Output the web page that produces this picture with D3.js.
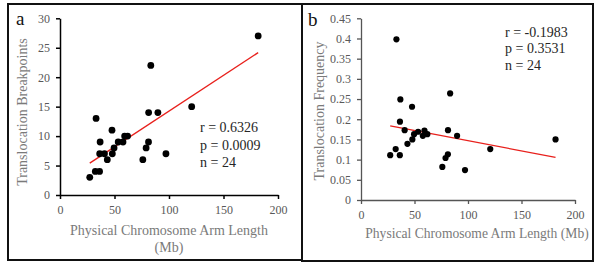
<!DOCTYPE html>
<html>
<head>
<meta charset="utf-8">
<script src="https://cdn.jsdelivr.net/npm/d3@7"></script>
<style>
  body { margin: 0; background: #fff; }
  svg text { font-family: "Liberation Serif", "Times New Roman", serif; }
</style>
</head>
<body>
<div id="chart"></div>
<script>
// arm length (Mb) per chromosome arm
var armLength = [27.3, 32.4, 36.3, 33.1, 36.8, 36.4, 40.8, 43.4, 47.7, 48.0, 49.6, 53.4,
                 57.8, 59.3, 62.0, 76.0, 79.0, 81.2, 81.3, 83.3, 89.8, 97.2, 120.8, 181.8];
var breakpoints = [3, 4, 4, 13, 9, 7, 7, 6, 11, 7, 8, 9, 9, 10, 10, 6, 8, 9, 14, 22, 14, 7, 15, 27];
var frequency = [0.111, 0.126, 0.111, 0.398, 0.249, 0.194, 0.173, 0.139, 0.231, 0.150, 0.163, 0.169,
                 0.159, 0.172, 0.163, 0.082, 0.104, 0.113, 0.173, 0.264, 0.159, 0.074, 0.126, 0.150];

var xTicks = [0, 50, 100, 150, 200];
var yTicksA = [0, 5, 10, 15, 20, 25, 30];
var yTicksB = [0, 0.05, 0.1, 0.15, 0.2, 0.25, 0.3, 0.35, 0.4, 0.45];
var statsA = ["r = 0.6326", "p = 0.0009", "n = 24"];
var statsB = ["r = -0.1983", "p = 0.3531", "n = 24"];

var svg = d3.select("#chart").append("svg")
    .attr("width", 600)
    .attr("height", 267);

// least squares fit
function fit(xs, ys) {
    var mx = d3.mean(xs), my = d3.mean(ys);
    var sxy = d3.sum(xs, (x, i) => (x - mx) * (ys[i] - my));
    var sxx = d3.sum(xs, x => (x - mx) * (x - mx));
    var b = sxy / sxx;
    return {b: b, a: my - b * mx};
}

function panel(opt) {
    var g = svg.append("g");

    g.append("rect")
        .attr("x", opt.box[0]).attr("y", opt.box[1])
        .attr("width", opt.box[2]).attr("height", opt.box[3])
        .attr("fill", "none")
        .attr("stroke", "#111")
        .attr("stroke-width", 2);

    var x = d3.scaleLinear().domain([0, 200]).range([opt.x0, opt.x1]);
    var y = d3.scaleLinear().domain([0, opt.yMax]).range([opt.y0, opt.y1]);

    var xAxis = g.append("g")
        .attr("transform", "translate(0," + opt.y0 + ")")
        .call(d3.axisBottom(x).tickValues(xTicks).tickSize(4).tickSizeOuter(0).tickPadding(6));
    var yAxis = g.append("g")
        .attr("transform", "translate(" + opt.x0 + ",0)")
        .call(d3.axisLeft(y).tickValues(opt.yTicks).tickSize(4).tickSizeOuter(0).tickPadding(6)
              .tickFormat(opt.fmt));

    [xAxis, yAxis].forEach(function(ax) {
        ax.select(".domain").attr("stroke", opt.axisColor).attr("stroke-width", opt.axisWidth);
        ax.selectAll(".tick line").attr("stroke", opt.axisColor).attr("stroke-width", opt.axisWidth);
        ax.selectAll(".tick text")
            .attr("fill", "#595959")
            .style("font-size", "12px")
            .style("font-family", "'Liberation Serif', serif");
    });

    // regression line
    var f = fit(armLength, opt.values);
    var ext = d3.extent(armLength);
    g.append("line")
        .attr("x1", x(ext[0])).attr("y1", y(f.a + f.b * ext[0]))
        .attr("x2", x(ext[1])).attr("y2", y(f.a + f.b * ext[1]))
        .attr("stroke", "#e8201c")
        .attr("stroke-width", 1.3);

    g.selectAll("circle.pt")
        .data(armLength)
        .join("circle")
        .attr("class", "pt")
        .attr("cx", d => x(d))
        .attr("cy", (d, i) => y(opt.values[i]))
        .attr("r", opt.r)
        .attr("fill", "#000");

    // stats text
    g.selectAll("text.stat")
        .data(opt.stats)
        .join("text")
        .attr("class", "stat")
        .attr("x", opt.statX)
        .attr("y", (d, i) => opt.statY + i * opt.statGap)
        .attr("fill", "#262626")
        .style("font-size", "14px")
        .text(d => d);

    // panel letter
    g.append("text")
        .attr("x", opt.letter[0]).attr("y", opt.letter[1])
        .style("font-size", "19px")
        .attr("fill", "#111")
        .text(opt.letterText);

    // axis titles
    g.selectAll("text.xt")
        .data(opt.xTitle)
        .join("text")
        .attr("class", "xt")
        .attr("x", opt.xTitleX)
        .attr("y", (d, i) => opt.xTitleY + i * 17)
        .attr("text-anchor", "middle")
        .attr("fill", "#7a7a7a")
        .style("font-size", opt.xTitleSize)
        .text(d => d);

    g.append("text")
        .attr("transform", "translate(" + opt.yTitleX + "," + opt.yTitleY + ") rotate(-90)")
        .attr("text-anchor", "middle")
        .attr("fill", "#7a7a7a")
        .style("font-size", "14px")
        .text(opt.yTitle);
}

panel({
    box: [8, 4, 294, 256],
    x0: 60, x1: 278, y0: 195, y1: 18.3,
    yMax: 30, yTicks: yTicksA, fmt: d3.format("d"),
    values: breakpoints, r: 3.4,
    axisColor: "#000", axisWidth: 1.5,
    stats: statsA, statX: 200, statY: 132, statGap: 17.5,
    letter: [16, 25], letterText: "a",
    xTitle: ["Physical Chromosome Arm Length", "(Mb)"], xTitleX: 169, xTitleY: 235, xTitleSize: "14px",
    yTitle: "Translocation Breakpoints", yTitleX: 27, yTitleY: 112
});

panel({
    box: [302, 4, 291, 257],
    x0: 361, x1: 575, y0: 200, y1: 18.3,
    yMax: 0.45, yTicks: yTicksB, fmt: d => d3.format("")(+d.toFixed(2)),
    values: frequency, r: 3.1,
    axisColor: "#555", axisWidth: 1.3,
    stats: statsB, statX: 505, statY: 36.5, statGap: 16.5,
    letter: [308, 26], letterText: "b",
    xTitle: ["Physical Chromosome Arm Length (Mb)"], xTitleX: 477, xTitleY: 238, xTitleSize: "13.6px",
    yTitle: "Translocation Frequency", yTitleX: 324, yTitleY: 111
});
</script>
</body>
</html>
